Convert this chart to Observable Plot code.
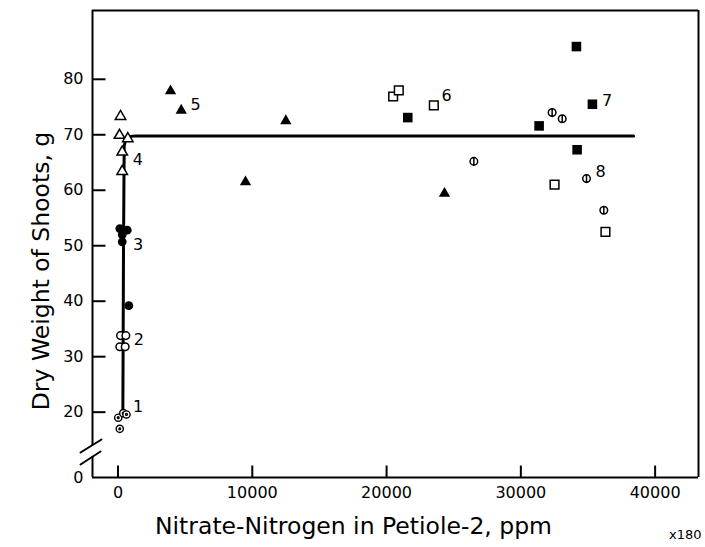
<!DOCTYPE html>
<html>
<head>
<meta charset="utf-8">
<script src="https://cdn.jsdelivr.net/npm/d3@7"></script>
<script src="https://cdn.jsdelivr.net/npm/@observablehq/plot@0.6"></script>
<style>
  html, body { margin: 0; padding: 0; background: white; }
  #chart svg { display: block; }
</style>
</head>
<body>
<div id="chart"></div>
<script>
// ---- data (ppm nitrate-N in petiole, dry weight of shoots in g) ----
const group1 = [[15, 18.3], [390, 19.7], [630, 19.3], [130, 14.9]];          // circle with dot
const group2 = [[186, 33.8], [584, 33.8], [134, 31.8], [534, 31.8]];          // open circles
const group3 = [[134, 53.1], [685, 52.8], [313, 52.0], [313, 50.7], [804, 39.2]]; // filled circles
const group4 = [[186, 73.3], [112, 69.9], [730, 69.3], [313, 66.9], [313, 63.4]]; // open triangles
const group5 = [[3910, 77.9], [4706, 74.4], [12496, 72.5], [9494, 61.5], [24313, 59.4]]; // filled triangles
const group6 = [[20490, 76.9], [20910, 78.0], [23520, 75.3], [32510, 61.0], [36300, 52.5]]; // open squares
const group7 = [[34140, 85.9], [35330, 75.5], [21580, 73.1], [31360, 71.6], [34190, 67.3]]; // filled squares
const group8 = [[32330, 74.0], [33080, 72.9], [26500, 65.2], [34890, 62.1], [36180, 56.4]]; // circle with bar

const fitLine = [[360, 19.2], [410, 50], [460, 68.0], [620, 69.6], [1300, 69.8], [38400, 69.8]];

const groupLabels = ["1", "2", "3", "4", "5", "6", "7", "8"];
const labelX = [1504, 1549, 1504, 1474, 5771, 24462, 36430, 35930];
const labelY = [20.9, 33.1, 50.1, 65.4, 75.3, 77.1, 76.2, 63.3];

const xTicks = [0, 10000, 20000, 30000, 40000];
const yTicks = [20, 30, 40, 50, 60, 70, 80];
const yTickLabels = [0, 20, 30, 40, 50, 60, 70, 80];

const xDomain = [-1900, 43230];
const yMin = 0, yBreak = 20, yMax = 92.4;   // broken axis: 0 .. 20 compressed

// axis-break slashes (in data units) and the break gap on the y axis
const breakSlashes = [
  [[-2792, 7.66], [-1229, 11.64]],
  [[-2792, 3.98], [-1303, 7.96]]
];
const axisBreakGap = [6.4, 9.8];

const xTitle = "Nitrate-Nitrogen in Petiole-2, ppm";
const yTitle = "Dry Weight of Shoots, g";
const figTag = "x180";

// ---- layout ----
const W = 705, H = 547;
const mL = 92, mR = 7, mT = 10, mB = 70;

// broken-axis mapping: below 20 g the axis is compressed
const squeeze = 3.265 / 5.545;
const yT = v => v >= yBreak ? v : yBreak - (yBreak - v) * squeeze;

// ---- custom symbols ----
const circleDot = {
  draw(ctx, size) {
    const r = Math.sqrt(size / Math.PI);
    ctx.moveTo(r, 0); ctx.arc(0, 0, r, 0, 2 * Math.PI);
    const q = r * 0.25;
    ctx.moveTo(q, 0); ctx.arc(0, 0, q, 0, 2 * Math.PI);
  }
};
const circleBar = {
  draw(ctx, size) {
    const r = Math.sqrt(size / Math.PI);
    ctx.moveTo(r, 0); ctx.arc(0, 0, r, 0, 2 * Math.PI);
    ctx.moveTo(0, -r); ctx.lineTo(0, r);
  }
};
const tickUp = { draw(ctx) { ctx.moveTo(0, 0); ctx.lineTo(0, -12); } };
const tickRight = { draw(ctx) { ctx.moveTo(0, 0); ctx.lineTo(13, 0); } };

const X = d => d[0], Y = d => yT(d[1]);

const chart = Plot.plot({
  width: W, height: H,
  marginLeft: mL, marginRight: mR, marginTop: mT, marginBottom: mB,
  style: { fontFamily: "DejaVu Sans", fontSize: "16px", color: "black", background: "white" },
  x: { domain: xDomain },
  y: { domain: [yT(yMin), yT(yMax)] },
  marks: [
    // frame
    Plot.ruleY([yT(yMin)], { x1: xDomain[0], x2: xDomain[1], stroke: "black", strokeWidth: 2 }),
    Plot.ruleY([yT(yMax)], { x1: xDomain[0], x2: xDomain[1], stroke: "black", strokeWidth: 2 }),
    Plot.ruleX([xDomain[1]], { y1: yT(yMin), y2: yT(yMax), stroke: "black", strokeWidth: 2 }),
    Plot.ruleX([xDomain[0]], { y1: yT(yMin), y2: yT(axisBreakGap[0]), stroke: "black", strokeWidth: 2 }),
    Plot.ruleX([xDomain[0]], { y1: yT(axisBreakGap[1]), y2: yT(yMax), stroke: "black", strokeWidth: 2 }),
    // axis break slashes
    ...breakSlashes.map(s => Plot.line(s, { x: X, y: Y, stroke: "black", strokeWidth: 2 })),
    // inward ticks
    Plot.dot(xTicks, { x: d => d, y: () => yT(yMin), symbol: tickUp, stroke: "black", fill: "none", strokeWidth: 2 }),
    Plot.dot(yTicks, { x: () => xDomain[0], y: d => yT(d), symbol: tickRight, stroke: "black", fill: "none", strokeWidth: 2 }),
    // tick labels
    Plot.axisX({ ticks: xTicks, tickSize: 0, tickPadding: 9, tickFormat: d => String(d), label: null, fontSize: 16 }),
    Plot.axisY({ ticks: yTickLabels.map(yT), tickSize: 0, tickPadding: 9,
                 tickFormat: (d, i) => String(yTickLabels[i]), label: null, fontSize: 16 }),
    // fitted curve
    Plot.line(fitLine, { x: X, y: Y, stroke: "black", strokeWidth: 3, strokeLinejoin: "round", curve: "linear" }),
    // data groups
    Plot.dot(group1, { x: X, y: Y, symbol: circleDot, r: 3.6, stroke: "black", fill: "white", strokeWidth: 1.4 }),
    Plot.dot(group2, { x: X, y: Y, symbol: "circle", r: 3.8, stroke: "black", fill: "white", strokeWidth: 1.5 }),
    Plot.dot(group3, { x: X, y: Y, symbol: "circle", r: 4.4, fill: "black", stroke: "none" }),
    Plot.dot(group4, { x: X, y: Y, symbol: "triangle", r: 3.9, stroke: "black", fill: "white", strokeWidth: 1.5 }),
    Plot.dot(group5, { x: X, y: Y, symbol: "triangle", r: 4.2, fill: "black", stroke: "none" }),
    Plot.dot(group6, { x: X, y: Y, symbol: "square", r: 4.9, stroke: "black", fill: "white", strokeWidth: 1.5 }),
    Plot.dot(group7, { x: X, y: Y, symbol: "square", r: 5.4, fill: "black", stroke: "none" }),
    Plot.dot(group8, { x: X, y: Y, symbol: circleBar, r: 3.8, stroke: "black", fill: "white", strokeWidth: 1.5 }),
    // group numbers
    Plot.text(groupLabels, { x: (d, i) => labelX[i], y: (d, i) => yT(labelY[i]), text: d => d, fontSize: 16, fill: "black" }),
    // titles
    Plot.text([xTitle], { frameAnchor: "bottom", textAnchor: "middle", dx: -42, dy: 56, text: d => d, fontSize: 23.5, fill: "black" }),
    Plot.text([yTitle], { frameAnchor: "left", textAnchor: "middle", dx: -51, dy: 27, rotate: -90, text: d => d, fontSize: 23.5, fill: "black" }),
    Plot.text([figTag], { frameAnchor: "bottom-right", textAnchor: "end", dx: 3, dy: 61, text: d => d, fontSize: 13, fill: "black" })
  ]
});
document.getElementById("chart").appendChild(chart);
</script>
</body>
</html>
